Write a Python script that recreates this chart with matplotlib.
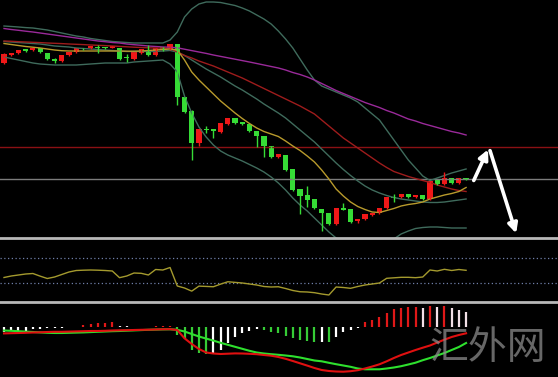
import numpy as np
import matplotlib
matplotlib.use("Agg")
import matplotlib.pyplot as plt

plt.rcParams['font.family'] = ['Noto Sans CJK SC', 'DejaVu Sans']

opens = [63, 55, 53, 49, 50, 48, 53, 59, 61, 55, 52, 48, 48, 47, 47, 47.5, 48, 57, 59, 53,
         50, 55, 47, 49, 44, 97, 111, 143, 129, 129, 132, 124, 118, 122, 124, 131, 136, 146, 157, 155,
         169, 189, 195, 199, 209, 213, 224, 208, 209, 221, 219, 215, 213, 208, 197, 197, 194, 197, 195, 199,
         180, 184, 178, 183, 178]
closes = [54, 53, 50, 51, 48, 52, 59, 61, 55, 52, 48, 49, 46, 47.6, 48, 46, 59, 58, 52, 49,
          55, 48, 50, 44, 97, 112, 143, 129, 130, 131, 123, 118, 123, 124, 131, 136, 146, 157, 154, 170,
          190, 196, 200, 208, 213, 224, 208, 209.5, 222, 219, 214, 213, 208, 197, 198, 194, 197, 195, 199, 181,
          184, 178, 183, 178, 179]
highs = [53, 52.5, 49.5, 48.5, 47.5, 47.5, 52.5, 58, 54.5, 51.5, 47.5, 47.5, 45.5, 45, 46.5, 45.5, 47.5, 54, 51.5, 48.5,
         45, 47.5, 46.5, 43.5, 43.5, 96.5, 110, 128.5, 126, 128.5, 122.5, 117.5, 117.5, 121.5, 123.5, 130.5, 135.5, 145.5, 153.5, 154.5,
         168.5, 188.5, 186, 198.5, 208.5, 212.5, 207.5, 203, 208.5, 218.5, 213.5, 212.5, 207.5, 196.5, 194, 193.5, 193.5, 194.5, 194.5, 180.5,
         179.5, 172, 177.5, 177.5, 177.5]
lows = [64, 55.5, 53.5, 51.5, 50.5, 52.5, 59.5, 63, 61.5, 55.5, 52.5, 49.5, 48.5, 53, 48.5, 48, 59.5, 62, 59.5, 53.5,
        55.5, 55.5, 50.5, 49.5, 105, 112.5, 160, 146, 133, 138, 132.5, 124.5, 123.5, 124.5, 131.5, 147, 157, 157.5, 157.5, 170.5,
        190.5, 214, 207, 208.5, 231, 224.5, 224.5, 210, 222.5, 223, 219.5, 215.5, 213.5, 208.5, 202, 197.5, 197.5, 197.5, 199.5, 199.5,
        184.5, 184.5, 183.5, 183.5, 179.5]

ma_fast = [43.5, 44.5, 45.5, 46.5, 47.2, 48, 49, 50, 50.7, 51, 51, 51, 51, 51, 51, 51, 51, 51.2, 51.2, 51,
           50.5, 50, 49.5, 49, 50, 60, 72, 80, 87, 94, 101, 107, 113, 118.5, 123.5, 128, 131.5, 134, 136.5, 141,
           146, 150.5, 156, 162, 170, 179, 189, 196, 202, 206.5, 209.5, 212, 212.5, 210.5, 208.5, 206, 204.5, 203.5, 202, 199,
           197, 195, 193.5, 191.5, 187.5]
ma_mid = [41, 41.3, 41.7, 42, 42.3, 42.6, 43, 43.3, 43.6, 44, 44.3, 44.6, 45, 45.3, 45.6, 46, 46.4, 46.8, 47.2, 47.5,
          47.8, 48, 48.2, 48.5, 52, 55.5, 58, 61, 63.5, 66, 69, 72, 75, 78, 81.5, 85, 88.5, 92, 95.5, 99,
          102.5, 106, 110, 114, 120, 126, 132, 138, 143, 148, 153, 158, 163, 167.5, 171.5, 174, 176.5, 178.5, 180.5, 182.5,
          185, 187, 189, 190.5, 191.5]
ma_slow = [28.5, 29.5, 30.3, 31.2, 32, 33, 34, 35, 36, 37, 38, 39, 40, 41, 41.7, 42.5, 43, 44, 44.7, 45.3,
           46, 46.5, 47, 47.3, 47.8, 49.2, 50.6, 52, 53.4, 55, 56.4, 57.8, 59.2, 60.6, 62, 63.5, 65, 66.5, 68, 70,
           72.5, 74.5, 77, 80, 83.5, 87, 90.5, 93.5, 96.5, 99.5, 102.5, 105, 107.5, 110.5, 113, 116, 119, 121, 123.5, 125.5,
           127.5, 129.5, 131.5, 133, 135]
bb_upper = [26, 26.5, 27, 27.6, 28, 29, 30, 31.5, 33, 34.5, 36, 37, 38.5, 39.5, 40.5, 41.5, 42, 42.5, 43, 43,
            43, 43, 43, 40, 32, 17, 9, 4, 2, 2, 2.5, 4, 5.5, 8, 11, 15, 19, 24, 31, 39,
            48, 59, 70, 80, 86, 89, 92, 95, 98, 102, 108, 114, 120, 130, 140, 150, 160, 168, 176, 180.5,
            178, 175.5, 173, 171, 169]
bb_mid = [41.5, 42, 42.5, 43, 43.5, 44, 45, 46, 46.5, 47, 48, 48.5, 49, 49.5, 50, 50.5, 51, 51.5, 51.5, 51.5,
          51.5, 51.5, 51, 50.5, 52, 55.5, 60, 64.5, 69, 73, 77, 81.5, 86, 90, 94.5, 99, 104, 108.5, 113, 118,
          124, 130, 136, 142, 149, 156, 163, 169.5, 175.5, 181, 186, 190, 193, 195.5, 197.5, 199, 200, 201, 202, 202.5,
          202.5, 202, 201, 200, 199]
bb_lower = [57, 58.5, 60, 61.5, 63, 64, 64.5, 65, 65, 65, 65, 64.5, 64, 63.5, 63, 63, 63, 63, 62, 61.5,
            61, 60.5, 60, 64, 72, 96, 113, 127, 137, 145, 151, 155, 158, 161, 164.5, 168, 172, 177, 183, 190,
            198, 205, 211, 218, 225, 232, 238, 243, 247, 250, 251, 250, 248, 244, 239, 234, 231, 228.5, 227.5, 227,
            227, 227.5, 228, 228, 228]
resistance = 147
pivot = 179

rsi = [38.8, 41.2, 42.8, 44.4, 45.2, 41, 37.2, 39.6, 43.6, 47.6, 50, 50.5, 50.8, 50.5, 50, 49.2, 38.5, 41.2, 46, 45.5,
       42.8, 51.6, 50.8, 54.8, 25.2, 22, 17, 25, 24.5, 24, 28.2, 32, 31, 30, 28.4, 26.8, 24.4, 23.6, 24, 21.2,
       18, 16, 15.6, 14.5, 12.4, 10.8, 23.6, 22.8, 21.5, 24.4, 26.8, 28.4, 30, 37.5, 38.3, 39.1, 39.1, 38.5, 39.6, 50.8,
       49.2, 51.9, 50, 51.6, 50.3]
rsi_levels = [70, 30]

macd = [-6.4, -6.2, -6.0, -5.8, -5.5, -5.3, -5.0, -4.8, -4.8, -4.6, -4.4, -4.2, -4.0, -4.0, -3.8, -3.5, -3.3, -3.2, -3.0, -2.8,
        -2.7, -2.5, -2.3, -2.2, -3.0, -11.3, -17.0, -22.0, -25.5, -26.5, -27.0, -26.7, -26.4, -26.5, -26.8, -27.2, -28.0, -28.7, -30.0, -31.8,
        -34.0, -36.3, -38.6, -41.0, -43.0, -44.0, -44.5, -44.7, -44.2, -43.2, -41.5, -39.5, -37.3, -34.3, -31.0, -28.0, -25.5, -23.0, -20.7, -18.5,
        -15.5, -12.7, -10.0, -8.0, -6.3]
signal = [-3.5, -3.8, -4.2, -4.6, -5.0, -5.4, -5.8, -6.0, -6.0, -5.8, -5.6, -5.4, -5.1, -4.8, -4.5, -4.2, -4.0, -3.7, -3.4, -3.1,
          -2.8, -2.6, -2.4, -2.3, -2.8, -4.5, -7.0, -9.5, -11.6, -13.6, -15.8, -17.8, -19.8, -21.8, -23.8, -25.5, -26.5, -27.2, -27.8, -28.5,
          -29.3, -30.5, -32.0, -33.5, -34.3, -35.8, -37.2, -38.5, -39.8, -41.5, -42.3, -42.3, -42.3, -41.5, -40.5, -39.2, -37.5, -35.7, -33.2, -31.0,
          -28.5, -26.0, -23.0, -20.0, -16.0]
hist = [-4.5, -4.3, -4.0, -3.8, -2.0, -1.5, -1.2, -1.0, -0.6, -0.3, 0.5, 2.5, 3.5, 3.8, 4.5, 4.8, 1.0, 0.6, 0.5, 0.4,
        0.3, 0.6, 0.8, 1.0, -8, -12, -23, -25.7, -27, -26.3, -23, -16, -10, -6, -3.7, -2, -3, -5, -6, -9,
        -11, -13, -13.7, -14.7, -14.5, -14.8, -9.7, -5.3, -3, -1.3, 5, 7, 10, 14, 18, 19, 20, 20.3, 19.5, 21,
        20.5, 21.5, 19, 17, 15.3]

x = np.arange(len(opens))
o, c, h, l = map(np.array, (opens, closes, highs, lows))

W, H = 558, 377
fig = plt.figure(figsize=(W / 100, H / 100), dpi=100, facecolor="black")
ax = fig.add_axes([0, 1 - 238 / H, 1, 238 / H])
ax_rsi = fig.add_axes([0, 1 - 302 / H, 1, 64 / H])
ax_macd = fig.add_axes([0, 0, 1, 75 / H])

xlim = (-4 / 7.22, (W - 4) / 7.22)
for a in (ax, ax_rsi, ax_macd):
    a.set_facecolor("black")
    a.set_xlim(*xlim)
    a.set_xticks([])
    a.set_yticks([])
    for s in a.spines.values():
        s.set_visible(False)
for a in (ax_rsi, ax_macd):
    a.spines["top"].set_visible(True)
    a.spines["top"].set_color("#b8b8b8")
    a.spines["top"].set_linewidth(2)

# price pane
ax.set_ylim(238, 0)
ax.axhline(resistance, color="#8a1014", lw=1)
ax.axhline(pivot, color="#7c7c7c", lw=1)
ax.plot(x, bb_upper, color="#3f6b5c", lw=1)
ax.plot(x, bb_mid, color="#3f6b5c", lw=1)
ax.plot(x, bb_lower, color="#3f6b5c", lw=1)
ax.plot(x, ma_slow, color="#9a2a9a", lw=1)
ax.plot(x, ma_mid, color="#9e1c1c", lw=1)
ax.plot(x, ma_fast, color="#b89a2c", lw=1)

up = c < o
cols = np.where(up, "#f01818", "#36dc36")
ax.vlines(x, h, l, colors=cols, lw=1)
body = c - o
body = np.where(np.abs(body) < 0.9, 0.9, body)
ax.bar(x, body, bottom=o, width=0.72, color=cols, linewidth=0)

# projected path: up to the resistance line, then down
last = x[-1]
arrow = dict(arrowstyle="-|>", color="white", lw=2.6, mutation_scale=14)
ax.annotate("", xy=(last + 3.2, resistance), xytext=(last + 0.9, pivot + 4), arrowprops=arrow)
ax.annotate("", xy=(last + 7.05, 236), xytext=(last + 3.2, resistance + 1), arrowprops=arrow)

# RSI pane
ax_rsi.set_ylim(-0.4, 102)
for lv in rsi_levels:
    ax_rsi.axhline(lv, color="#6f7fa8", lw=0.9, ls=(0, (1, 2)))
ax_rsi.plot(x, rsi, color="#a49a2e", lw=1)

# MACD pane
ax_macd.set_ylim(-50, 25)
hv = np.array(hist)
prev = np.r_[hv[0], hv[:-1]]
hcols = np.where(hv >= 0, np.where(hv > prev, "#e01818", "#f2dfe6"),
                 np.where(hv < prev, "#36cc36", "#ffffff"))
ax_macd.vlines(x, 0, hv, colors=hcols, lw=1.6)
ax_macd.plot(x, signal, color="#2ee02e", lw=1.5)
ax_macd.plot(x, macd, color="#e01010", lw=1.5)

fig.text(488 / W, 1 - 348 / H, "汇外网", color="#8a8a8a", alpha=0.75, fontsize=28,
         fontweight="light", ha="center", va="center")

fig.savefig("out.png", dpi=100, facecolor="black")
